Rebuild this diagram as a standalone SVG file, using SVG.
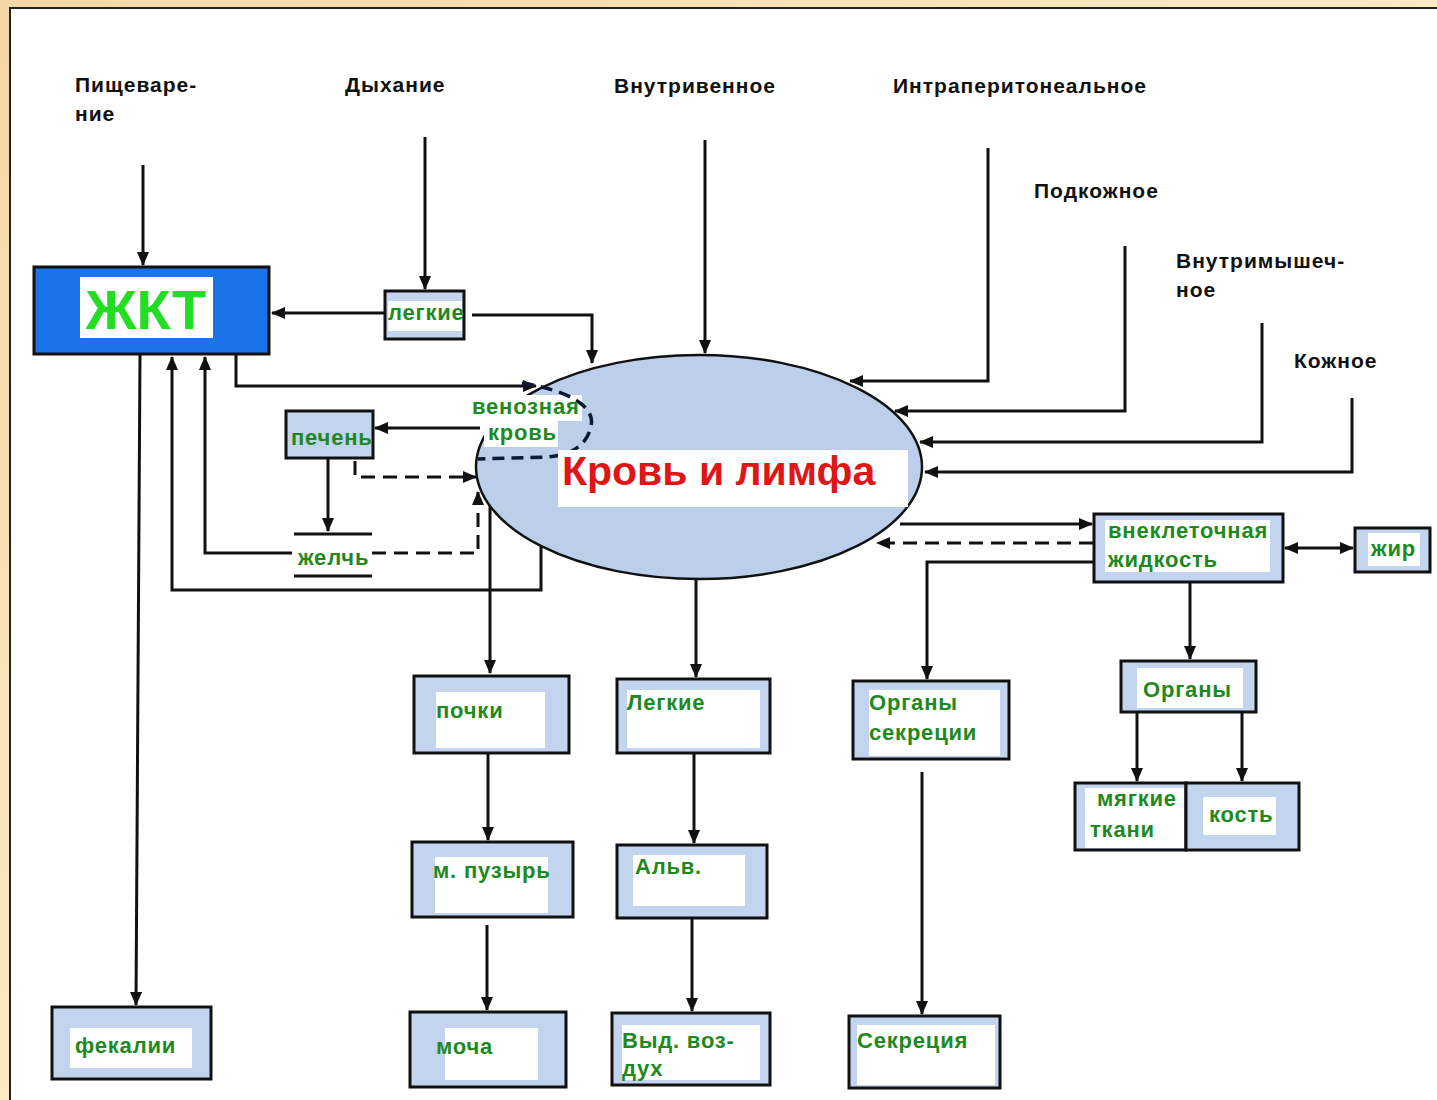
<svg xmlns="http://www.w3.org/2000/svg" width="1437" height="1100" viewBox="0 0 1437 1100">
<defs>
<linearGradient id="bg" x1="0" y1="0" x2="1" y2="1">
<stop offset="0" stop-color="#f3d7a6"/>
<stop offset="0.5" stop-color="#fbe9c4"/>
<stop offset="1" stop-color="#f6dcae"/>
</linearGradient>
<marker id="ah" viewBox="0 0 14 12" refX="13" refY="6" markerWidth="14" markerHeight="12" markerUnits="userSpaceOnUse" orient="auto-start-reverse">
<path d="M0,0 L14,6 L0,12 z" fill="#111"/>
</marker>
<clipPath id="pclip"><rect x="286" y="411" width="85" height="47"/></clipPath>
<style>
.lbl{font-family:"Liberation Sans",Arial,sans-serif;font-weight:bold;font-size:21px;letter-spacing:1px;fill:#111}
.gt{font-family:"Liberation Sans",Arial,sans-serif;font-weight:bold;font-size:22px;letter-spacing:0.8px;fill:#1e8a1e}
.box{fill:#c3d4ee;stroke:#111;stroke-width:3}
.in{fill:#fff}
.c{fill:none;stroke:#111;stroke-width:3}
.ca{fill:none;stroke:#111;stroke-width:3;marker-end:url(#ah)}
.cd{fill:none;stroke:#111;stroke-width:3;stroke-dasharray:14 8;marker-end:url(#ah)}
</style>
</defs>
<rect x="0" y="0" width="1437" height="1100" fill="url(#bg)"/>
<rect x="10" y="8" width="1440" height="1100" fill="#fff" stroke="#222" stroke-width="2"/>

<g id="labels">
<text class="lbl" x="75" y="92">Пищеваре-</text>
<text class="lbl" x="75" y="121">ние</text>
<text class="lbl" x="345" y="92">Дыхание</text>
<text class="lbl" x="614" y="93">Внутривенное</text>
<text class="lbl" x="893" y="93">Интраперитонеальное</text>
<text class="lbl" x="1034" y="198">Подкожное</text>
<text class="lbl" x="1176" y="268">Внутримышеч-</text>
<text class="lbl" x="1176" y="297">ное</text>
<text class="lbl" x="1294" y="368">Кожное</text>
</g>

<g id="connectors">
<path class="ca" d="M143,165 V265"/>
<path class="ca" d="M425,137 V289"/>
<path class="ca" d="M385,313 H272"/>
<path class="ca" d="M472,315 H592 V363"/>
<path class="ca" d="M705,140 V353"/>
<path class="ca" d="M988,148 V381 H850"/>
<path class="ca" d="M1125,246 V411 H895"/>
<path class="ca" d="M1262,323 V442 H920"/>
<path class="ca" d="M1352,398 V472 H925"/>
<path class="ca" d="M236,354 V386 H536"/>
<path class="ca" d="M480,428 H375"/>
<path class="ca" d="M328,458 V531"/>
<path class="ca" d="M292,553 H205 V357"/>
<path class="cd" d="M372,553 H478 V492"/>
<path class="cd" d="M355,461 V477 H476"/>
<path class="ca" d="M541,545 V590 H172 V357"/>
<path class="ca" d="M140,354 L136,1005"/>
<path class="ca" d="M490,505 V673"/>
<path class="ca" d="M488,753 V840"/>
<path class="ca" d="M487,925 V1010"/>
<path class="ca" d="M696,578 V677"/>
<path class="ca" d="M694,753 V843"/>
<path class="ca" d="M692,918 V1011"/>
<path class="ca" d="M900,524 H1092"/>
<path class="cd" d="M1093,543 H877"/>
<path class="ca" d="M1285,548 H1353" marker-start="url(#ah)"/>
<path class="ca" d="M1094,562 H927 V679"/>
<path class="ca" d="M922,772 V1014"/>
<path class="ca" d="M1190,582 V659"/>
<path class="ca" d="M1137,712 V781"/>
<path class="ca" d="M1242,712 V781"/>
</g>

<g id="blood">
<ellipse cx="699" cy="467" rx="223" ry="112" fill="#bccfea" stroke="#111" stroke-width="2.5"/>
<rect x="470" y="395" width="112" height="26" fill="#fff"/>
<rect x="484" y="420" width="74" height="27" fill="#fff"/>
<path d="M522,383 C565,390 596,405 591,426 C587,446 571,455 548,457 L478,459" fill="none" stroke="#0b1a33" stroke-width="3.5" stroke-dasharray="12 7"/>
<text class="gt" x="472" y="414" letter-spacing="0.3">венозная</text>
<text class="gt" x="488" y="440" letter-spacing="0.3">кровь</text>
<rect x="558" y="450" width="350" height="57" fill="#fff"/>
<text x="562" y="485" font-family="Liberation Sans, Arial, sans-serif" font-size="41" font-weight="bold" fill="#e01515">Кровь и лимфа</text>
</g>

<g id="zhkt">
<rect x="34" y="267" width="235" height="87" fill="#1a73e8" stroke="#111" stroke-width="3"/>
<rect x="80" y="277" width="133" height="61" fill="#fff"/>
<text x="146" y="329" text-anchor="middle" font-family="Liberation Sans, Arial, sans-serif" font-size="56" font-weight="bold" fill="#22dd22">ЖКТ</text>
</g>

<g id="legkie-top">
<rect class="box" x="385" y="291" width="79" height="48"/>
<rect class="in" x="388" y="301" width="74" height="30"/>
<text class="gt" x="388" y="320" letter-spacing="0">легкие</text>
</g>

<g id="pechen">
<rect class="box" x="286" y="411" width="87" height="47"/>
<text class="gt" x="291" y="445" clip-path="url(#pclip)">печень</text>
</g>

<g id="zhelch">
<rect x="292" y="533" width="80" height="45" fill="#fff"/>
<path class="c" d="M294,534 H372 M294,576 H372"/>
<text class="gt" x="298" y="565" letter-spacing="0">желчь</text>
</g>

<g id="fekalii">
<rect class="box" x="52" y="1007" width="159" height="72"/>
<rect class="in" x="70" y="1028" width="122" height="40"/>
<text class="gt" x="75" y="1053">фекалии</text>
</g>

<g id="pochki">
<rect class="box" x="414" y="676" width="155" height="77"/>
<rect class="in" x="436" y="692" width="109" height="56"/>
<text class="gt" x="436" y="718">почки</text>
</g>

<g id="puzyr">
<rect class="box" x="412" y="842" width="161" height="75"/>
<rect class="in" x="435" y="857" width="113" height="56"/>
<text class="gt" x="433" y="878" letter-spacing="0">м. пузырь</text>
</g>

<g id="mocha">
<rect class="box" x="410" y="1012" width="156" height="75"/>
<rect class="in" x="445" y="1028" width="93" height="52"/>
<text class="gt" x="436" y="1054">моча</text>
</g>

<g id="legkie">
<rect class="box" x="617" y="679" width="153" height="74"/>
<rect class="in" x="627" y="690" width="133" height="58"/>
<text class="gt" x="627" y="710">Легкие</text>
</g>

<g id="alv">
<rect class="box" x="617" y="845" width="150" height="73"/>
<rect class="in" x="633" y="855" width="112" height="51"/>
<text class="gt" x="635" y="874">Альв.</text>
</g>

<g id="vyd">
<rect class="box" x="612" y="1013" width="158" height="72"/>
<rect class="in" x="622" y="1025" width="138" height="55"/>
<text class="gt" x="622" y="1048">Выд. воз-</text>
<text class="gt" x="622" y="1076">дух</text>
</g>

<g id="vnekl">
<rect class="box" x="1094" y="514" width="189" height="68"/>
<rect class="in" x="1105" y="520" width="165" height="52"/>
<text class="gt" x="1108" y="538">внеклеточная</text>
<text class="gt" x="1108" y="567">жидкость</text>
</g>

<g id="zhir">
<rect class="box" x="1355" y="528" width="75" height="44"/>
<rect class="in" x="1368" y="533" width="52" height="33"/>
<text class="gt" x="1371" y="556">жир</text>
</g>

<g id="organy-sekr">
<rect class="box" x="853" y="681" width="156" height="78"/>
<rect class="in" x="869" y="690" width="131" height="66"/>
<text class="gt" x="869" y="710">Органы</text>
<text class="gt" x="869" y="740">секреции</text>
</g>

<g id="sekr">
<rect class="box" x="849" y="1016" width="151" height="72"/>
<rect class="in" x="857" y="1025" width="138" height="60"/>
<text class="gt" x="857" y="1048">Секреция</text>
</g>

<g id="organy">
<rect class="box" x="1121" y="661" width="135" height="51"/>
<rect class="in" x="1137" y="668" width="106" height="40"/>
<text class="gt" x="1143" y="697">Органы</text>
</g>

<g id="myagkie">
<rect class="box" x="1075" y="783" width="111" height="67"/>
<rect class="in" x="1085" y="788" width="99" height="60"/>
<text class="gt" x="1097" y="806" letter-spacing="0.3">мягкие</text>
<text class="gt" x="1090" y="837">ткани</text>
</g>

<g id="kost">
<rect class="box" x="1186" y="783" width="113" height="67"/>
<rect class="in" x="1203" y="797" width="73" height="38"/>
<text class="gt" x="1209" y="822" letter-spacing="0.3">кость</text>
</g>
</svg>
